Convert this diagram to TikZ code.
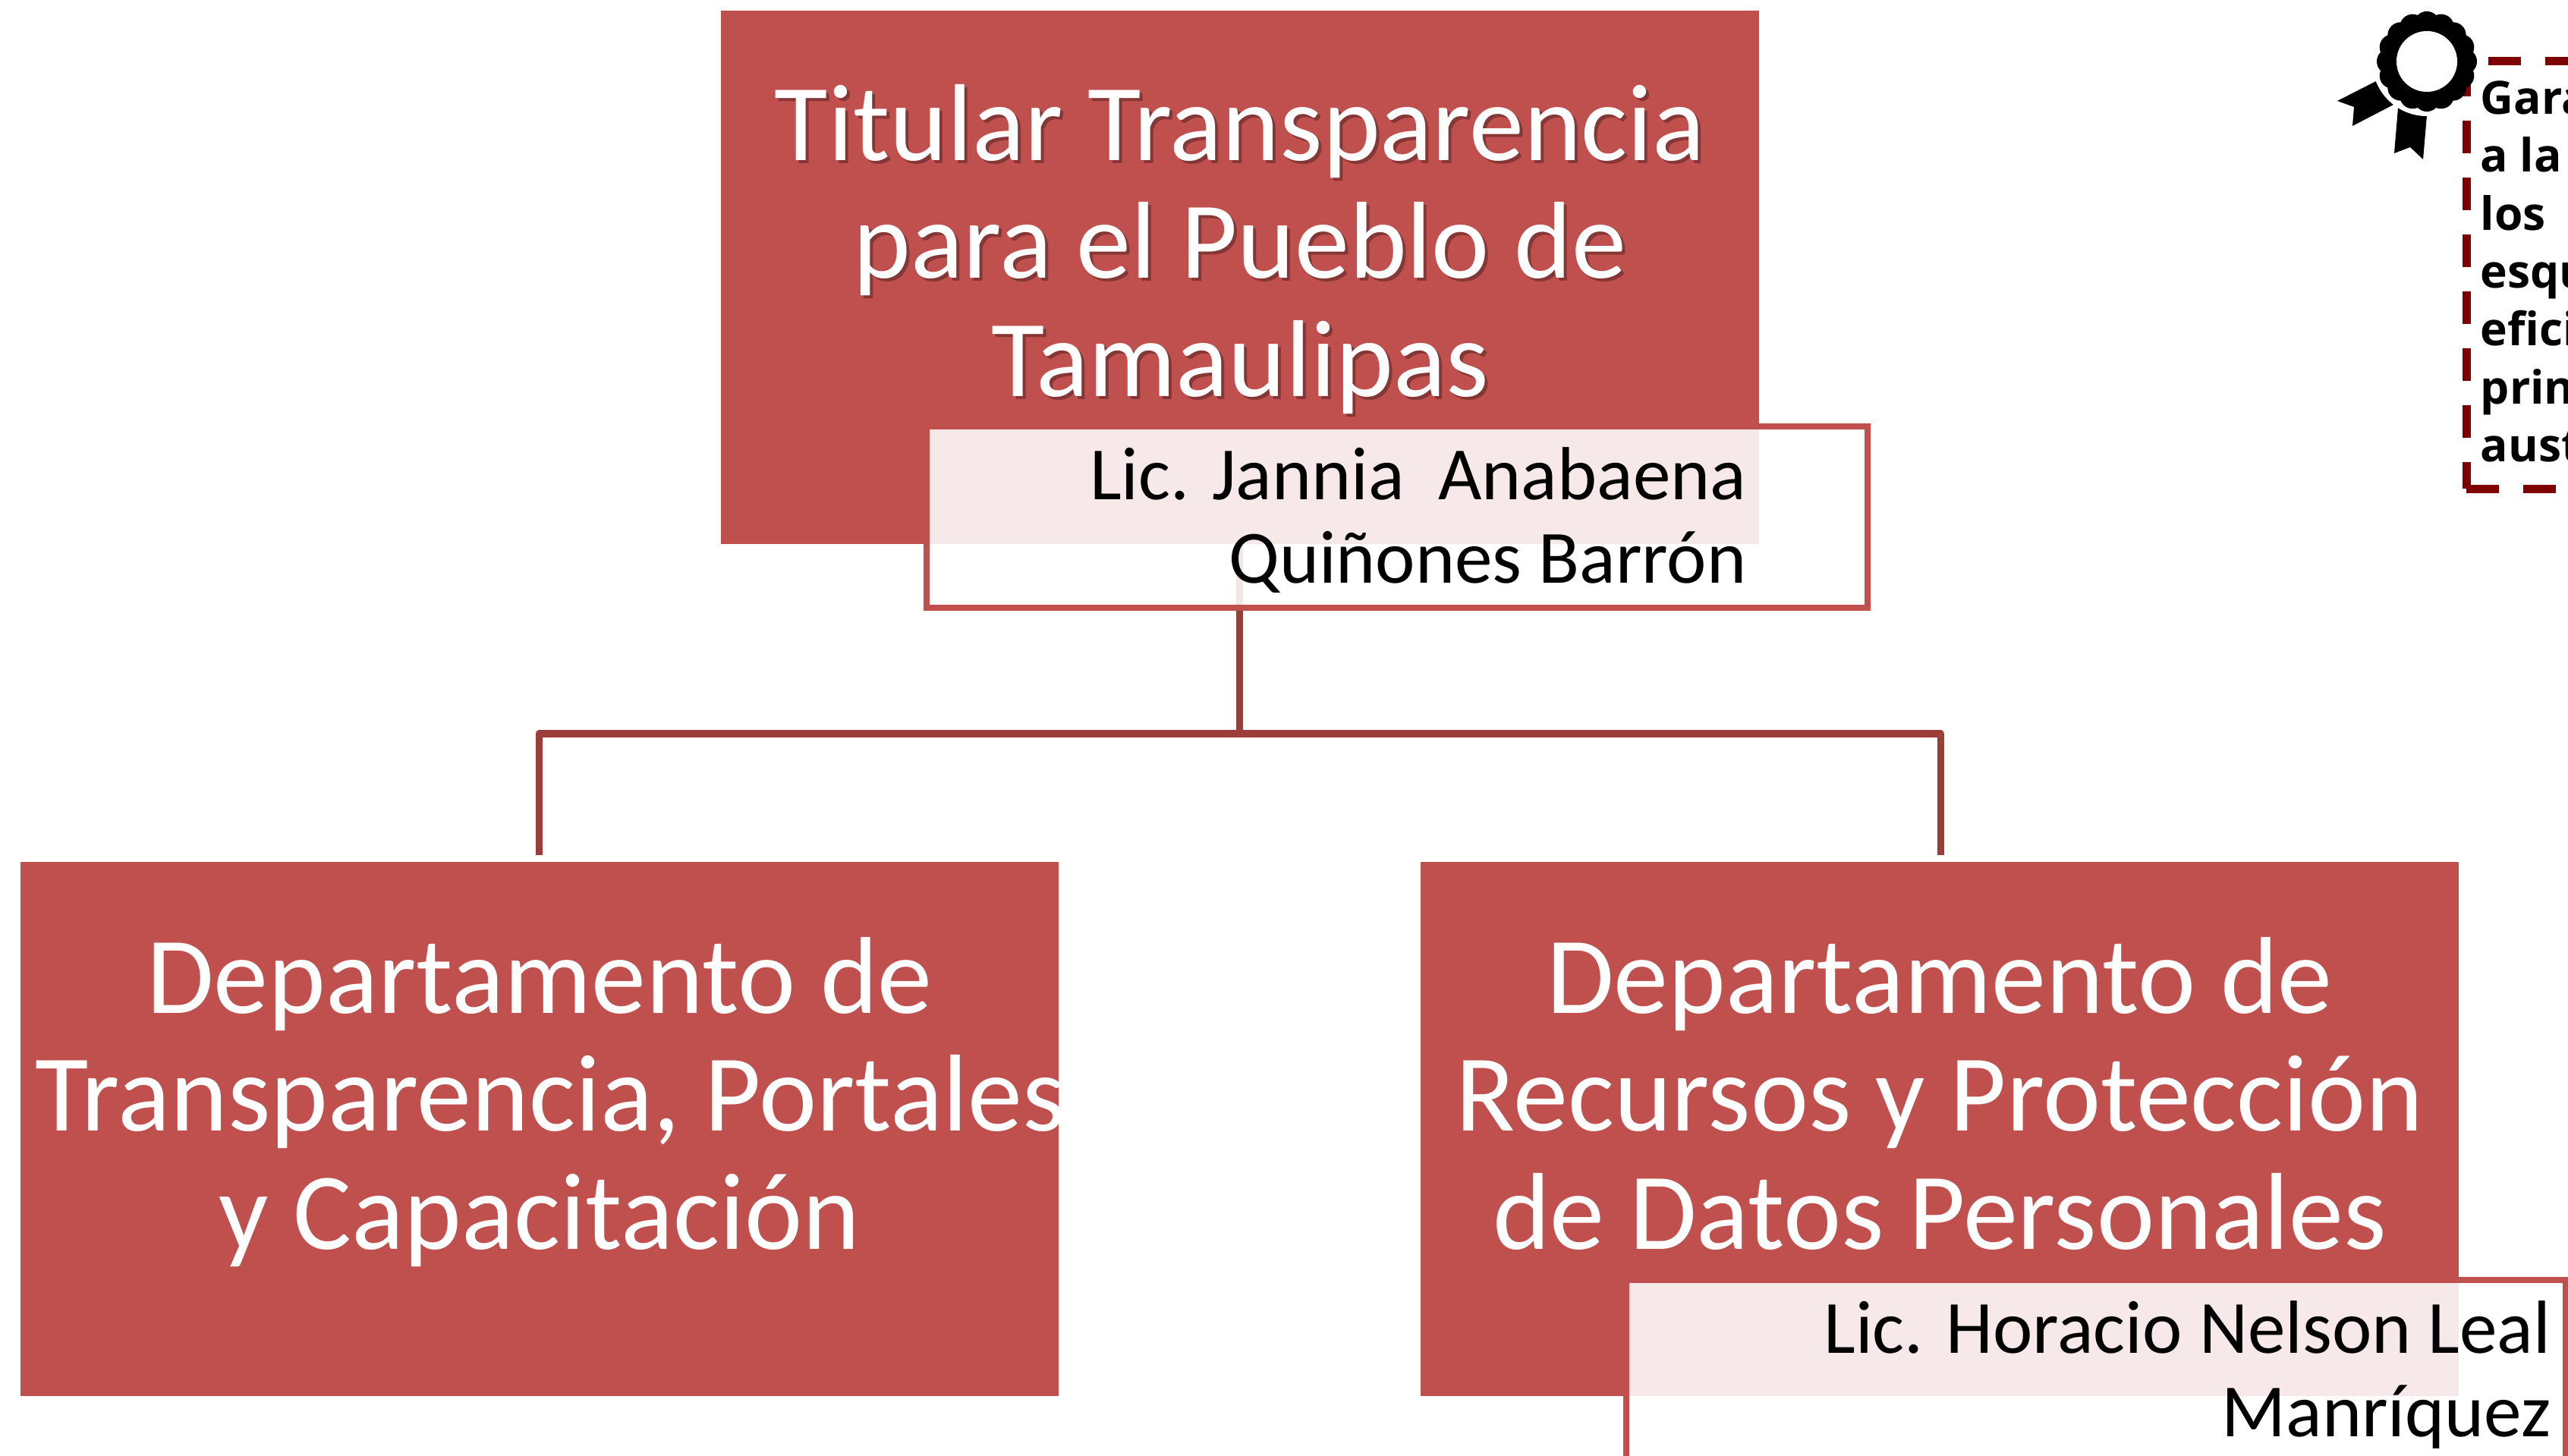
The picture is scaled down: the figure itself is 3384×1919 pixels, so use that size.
\documentclass[tikz,border=0pt]{standalone}
\usepackage{fontspec}
\setmainfont{Carlito}
\newfontfamily\notafont{Open Sans}
\usetikzlibrary{positioning}
\definecolor{cajarojo}{HTML}{C0504D}
\definecolor{linearojo}{HTML}{9C3D3A}
\definecolor{guinda}{HTML}{7F0000}

\begin{document}
\begin{tikzpicture}[
    x=0.01cm, y=-0.01cm,
    cargo/.style={rectangle, fill=cajarojo, minimum width=13.67cm, minimum height=7.03cm, inner sep=0pt, outer sep=0pt},
    cargotexto/.style={inner sep=0pt, text=white, align=center, font=\fontsize{41}{44.2}\selectfont},
    marco/.style={rectangle, draw=cajarojo, line width=0.08cm, fill=white, fill opacity=0.88, inner sep=0pt, outer sep=0pt, anchor=north west},
    nombre/.style={inner sep=0pt, align=right, anchor=east, text=black, font=\fontsize{28.2}{31.3}\selectfont},
    conector/.style={line width=0.09cm, draw=linearojo, line join=round},
    liston/.style={fill=black, draw=none}
]
\useasboundingbox (0,0) rectangle (3384,1919);

% Cargos
\node[cargo] (titular) at (1634,365.5) {};
\node[cargotexto, text=black, text opacity=0.3] (titularsombra) at (1638,344) {Titular Transparencia\\para el Pueblo de\\Tamaulipas\strut};
\node[cargotexto] (titulartexto) at (1634,340) {Titular Transparencia\\para el Pueblo de\\Tamaulipas\strut};
\node[cargo] (transparencia) at (711,1488) {};
\node[cargotexto] (transparenciatexto) at (711,1464) {Departamento de\\\hspace*{0.28cm}Transparencia, Portales\\y Capacitación\strut};
\node[cargo] (recursos) at (2556,1488) {};
\node[cargotexto] (recursostexto) at (2556,1464) {Departamento de\\Recursos y Protección\\de Datos Personales\strut};

% Conexiones
\coordinate (bus) at (1633,967);
\coordinate (ramaizq) at (710,1127);
\coordinate (ramader) at (2557,1127);
\draw[conector] (titular.south -| bus) -- (bus);
\draw[conector] (ramaizq) |- (bus) -| (ramader);

% Nombres
\node[marco, minimum width=12.4cm, minimum height=2.39cm] (marcotitular) at (1220.5,562) {};
\node[nombre] (nombretitular) at (2302,696) {Lic. Jannia\ \ Anabaena\\Quiñones Barrón\strut};
\node[marco, minimum width=12.37cm, minimum height=2.45cm] (marcorecursos) at (2143,1687) {};
\node[nombre] (nombrerecursos) at (3362,1821) {Lic. Horacio Nelson Leal\\Manríquez\strut};

% Insignia
\coordinate (insignia) at (3198,81);
\fill[liston] (3080,133) -- (3133,106) -- (3154,138) -- (3100,166) -- (3102,141) -- cycle;
\fill[liston] (3160,142) -- (3198,152) -- (3193,210) -- (3176,194) -- (3155,202) -- cycle;
\fill[white] (insignia) circle (0.72cm);

% Nota
\node[rectangle, draw=guinda, line width=0.11cm, dash pattern=on 0.43cm off 0.32cm, minimum width=4.67cm, minimum height=5.63cm, inner sep=0pt, outer sep=0pt, anchor=north west] (nota) at (3250,81) {};
\node[inner sep=0pt, anchor=north west, align=left, text=black, font=\notafont\bfseries\fontsize{17.2}{21.7}\selectfont] (notatexto) at (3268,106) {Gara\\a la\\los\\esqu\\efici\\prin\\aust};

\foreach \ang in {0,22.5,...,337.5} {
    \fill (insignia) ++(\ang:0.49cm) circle (0.17cm);
}
\fill (insignia) circle (0.56cm);
\fill[white] (insignia) circle (0.40cm);

\end{tikzpicture}
\end{document}
